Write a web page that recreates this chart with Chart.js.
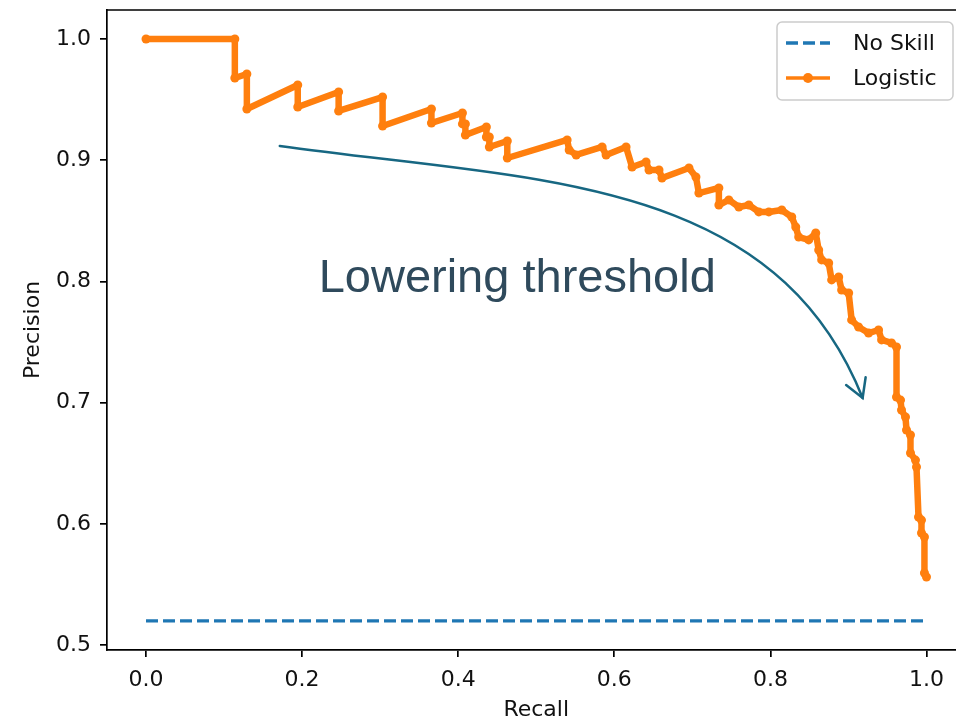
<!DOCTYPE html>
<html><head><meta charset="utf-8">
<script src="https://cdn.jsdelivr.net/npm/chart.js@4.4.1/dist/chart.umd.min.js"></script>
<style>html,body{margin:0;padding:0;background:#fff;overflow:hidden;width:956px;height:723px}</style>
</head><body>
<canvas id="c" width="970" height="723"></canvas>
<script>
// ---- data ----
const recall = [0, 0.1138, 0.1138, 0.1292, 0.1292, 0.1944, 0.1944, 0.2468, 0.2468, 0.3031,
  0.3031, 0.3657, 0.3657, 0.4054, 0.4054, 0.4092, 0.4092, 0.4361, 0.4361, 0.4399,
  0.4399, 0.4629, 0.4629, 0.5396, 0.5422, 0.5512, 0.5844, 0.5895, 0.6151, 0.6228,
  0.6407, 0.6445, 0.6573, 0.6611, 0.6957, 0.7046, 0.7084, 0.7340, 0.7340, 0.7468,
  0.7596, 0.7724, 0.7852, 0.7980, 0.8146, 0.8274, 0.8325, 0.8363, 0.8491, 0.8581,
  0.8619, 0.8657, 0.8747, 0.8785, 0.8875, 0.8913, 0.9003, 0.9041, 0.9130, 0.9258,
  0.9386, 0.9425, 0.9552, 0.9616, 0.9616, 0.9668, 0.9680, 0.9731, 0.9744, 0.9795,
  0.9795, 0.9859, 0.9872, 0.9898, 0.9936, 0.9936, 0.9974, 0.9974, 1.0];
const precision = [1.0, 1.0, 0.9678, 0.9711, 0.9422, 0.9620, 0.9439, 0.9563, 0.9406, 0.9521,
  0.9282, 0.9422, 0.9307, 0.9389, 0.9299, 0.9299, 0.9208, 0.9274, 0.9191, 0.9191,
  0.9109, 0.9158, 0.9018, 0.9167, 0.9084, 0.9043, 0.9109, 0.9043, 0.9109, 0.8944,
  0.8985, 0.8919, 0.8919, 0.8853, 0.8936, 0.8861, 0.8729, 0.8771, 0.8630, 0.8672,
  0.8614, 0.8630, 0.8573, 0.8573, 0.8589, 0.8531, 0.8449, 0.8366, 0.8342, 0.8399,
  0.8259, 0.8177, 0.8152, 0.8012, 0.8036, 0.7929, 0.7904, 0.7682, 0.7624, 0.7574,
  0.7599, 0.7517, 0.7492, 0.7459, 0.7046, 0.7021, 0.6939, 0.6881, 0.6774, 0.6733,
  0.6584, 0.6526, 0.6469, 0.6056, 0.6031, 0.5924, 0.5891, 0.5594, 0.5561];
const noSkillRecall = [0, 1];
const noSkillPrecision = [0.52, 0.52];
const xTicks = [0, 0.2, 0.4, 0.6, 0.8, 1.0];
const yTicks = [0.5, 0.6, 0.7, 0.8, 0.9, 1.0];
const seriesNames = ['No Skill', 'Logistic'];
const xLabel = 'Recall';
const yLabel = 'Precision';
const annotationText = 'Lowering threshold';

// annotation anchor points (data units)
const textAnchor = {x: 0.2212, y: 0.7913};
const arrowPath = [{x: 0.1714, y: 0.9117}, {x: 0.4910, y: 0.8828}, {x: 0.8031, y: 0.8894}, {x: 0.9182, y: 0.7038}];

const BLUE = '#1f77b4', ORANGE = '#ff7f0e';
const FONT = 'DejaVu Sans';
const VIEW_W = 956;

const toXY = (xs, ys) => xs.map((v, i) => ({x: v, y: ys[i]}));
const noPad = s => { s.paddingTop = 0; s.paddingBottom = 0; s.paddingLeft = 0; s.paddingRight = 0; };

const framePlugin = {
  id: 'frame',
  afterDatasetsDraw(chart) {
    const {ctx, chartArea: a, scales: {x, y}} = chart;
    ctx.save();
    // top and right spines
    ctx.strokeStyle = '#000'; ctx.lineWidth = 1.7;
    ctx.beginPath(); ctx.moveTo(a.left - 0.85, a.top); ctx.lineTo(a.right, a.top); ctx.lineTo(a.right, a.bottom); ctx.stroke();

    // annotation arrow
    const p = arrowPath.map(q => ({x: x.getPixelForValue(q.x), y: y.getPixelForValue(q.y)}));
    ctx.strokeStyle = '#176782'; ctx.lineWidth = 2.5; ctx.lineCap = 'round';
    ctx.beginPath(); ctx.moveTo(p[0].x, p[0].y);
    ctx.bezierCurveTo(p[1].x, p[1].y, p[2].x, p[2].y, p[3].x, p[3].y); ctx.stroke();
    const ang = Math.atan2(p[3].y - p[2].y, p[3].x - p[2].x);
    const L = 21, w = 30 * Math.PI / 180;
    ctx.beginPath();
    ctx.moveTo(p[3].x - L * Math.cos(ang - w), p[3].y - L * Math.sin(ang - w));
    ctx.lineTo(p[3].x, p[3].y);
    ctx.lineTo(p[3].x - L * Math.cos(ang + w), p[3].y - L * Math.sin(ang + w));
    ctx.stroke();

    // annotation text
    ctx.fillStyle = '#2f4a5c';
    ctx.font = '47px "Liberation Sans", Arial, sans-serif';
    ctx.textBaseline = 'alphabetic'; ctx.textAlign = 'left';
    ctx.fillText(annotationText, x.getPixelForValue(textAnchor.x), y.getPixelForValue(textAnchor.y));

    // legend
    const bw = 176, bh = 78;
    const bx = Math.min(a.right, VIEW_W) - 3 - bw, by = a.top + 12;
    ctx.beginPath();
    ctx.roundRect(bx, by, bw, bh, 5);
    ctx.fillStyle = 'rgba(255,255,255,0.8)'; ctx.fill();
    ctx.strokeStyle = '#cccccc'; ctx.lineWidth = 1.5; ctx.stroke();
    const ds = chart.data.datasets;
    const rows = [by + 21, by + 56];
    ds.forEach((d, i) => {
      const yy = rows[i];
      ctx.save();
      ctx.strokeStyle = d.borderColor; ctx.lineWidth = 3.3; ctx.lineCap = 'butt';
      ctx.setLineDash(d.borderDash || []);
      ctx.beginPath(); ctx.moveTo(bx + 9, yy); ctx.lineTo(bx + 53, yy); ctx.stroke();
      ctx.restore();
      if (d.pointRadius > 0) {
        ctx.fillStyle = d.borderColor;
        ctx.beginPath(); ctx.arc(bx + 31, yy, 5, 0, Math.PI * 2); ctx.fill();
      }
      ctx.fillStyle = '#111'; ctx.font = '22px "' + FONT + '"';
      ctx.textBaseline = 'middle'; ctx.textAlign = 'left';
      ctx.fillText(d.label, bx + 76, yy + 1);
    });
    ctx.restore();
  }
};

const tickFont = {family: FONT, size: 22};

new Chart(document.getElementById('c'), {
  type: 'line',
  data: {
    datasets: [
      {label: seriesNames[0], data: toXY(noSkillRecall, noSkillPrecision), borderColor: BLUE,
       borderWidth: 3.3, borderDash: [12, 5], pointRadius: 0, fill: false, tension: 0},
      {label: seriesNames[1], data: toXY(recall, precision), borderColor: ORANGE, backgroundColor: ORANGE,
       borderWidth: 6.5, pointRadius: 4.5, pointBorderWidth: 0, pointBackgroundColor: ORANGE,
       borderJoinStyle: 'round', borderCapStyle: 'round', fill: false, tension: 0}
    ]
  },
  options: {
    responsive: false, animation: false,
    layout: {padding: {top: 10, right: 0, left: 0, bottom: 0}},
    plugins: {legend: {display: false}, tooltip: {enabled: false}},
    scales: {
      x: {
        type: 'linear', min: -0.05, max: 1.05,
        afterBuildTicks: s => { s.ticks = xTicks.map(v => ({value: v})); },
        afterFit: s => { s.height = 73; noPad(s); },
        grid: {display: true, drawOnChartArea: false, drawTicks: true, tickLength: 7, color: '#000', lineWidth: 1.7},
        border: {display: true, color: '#000', width: 1.7},
        ticks: {font: tickFont, color: '#111', padding: 10, maxRotation: 0, autoSkip: false,
                callback: v => Number(v).toFixed(1)},
        title: {display: true, text: xLabel, font: tickFont, color: '#111', padding: {top: 0, bottom: 0}}
      },
      y: {
        type: 'linear', min: 0.4959, max: 1.0239,
        afterBuildTicks: s => { s.ticks = yTicks.map(v => ({value: v})); },
        afterFit: s => { s.width = 107; noPad(s); },
        grid: {display: true, drawOnChartArea: false, drawTicks: true, tickLength: 7, color: '#000', lineWidth: 1.7},
        border: {display: true, color: '#000', width: 1.7},
        ticks: {font: tickFont, color: '#111', padding: 9, autoSkip: false,
                callback: v => Number(v).toFixed(1)},
        title: {display: true, text: yLabel, font: tickFont, color: '#111', padding: {top: 20, bottom: 0}}
      }
    }
  },
  plugins: [framePlugin]
});
</script>
</body></html>
